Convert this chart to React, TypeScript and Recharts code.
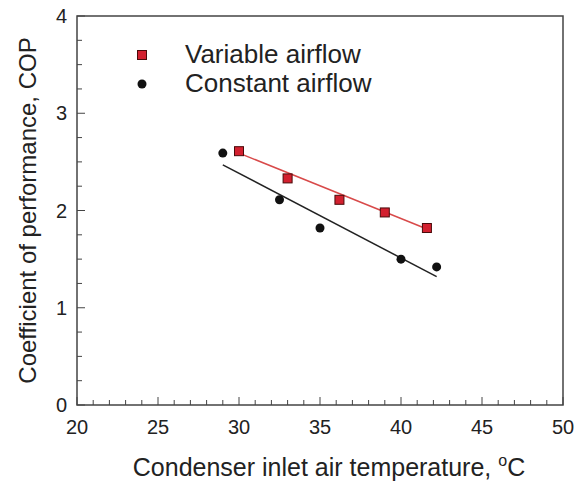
import { ComposedChart, Scatter, XAxis, YAxis, ReferenceArea, Legend } from 'recharts';

// measured COP points
const variableAirflow = [
  { x: 30.0, y: 2.61 },
  { x: 33.0, y: 2.33 },
  { x: 36.2, y: 2.11 },
  { x: 39.0, y: 1.98 },
  { x: 41.6, y: 1.82 },
];

const constantAirflow = [
  { x: 29.0, y: 2.59 },
  { x: 32.5, y: 2.11 },
  { x: 35.0, y: 1.82 },
  { x: 40.0, y: 1.5 },
  { x: 42.2, y: 1.42 },
];

// linear fit end points
const variableFit = [
  { x: 30.0, y: 2.59 },
  { x: 41.6, y: 1.81 },
];
const constantFit = [
  { x: 29.0, y: 2.47 },
  { x: 42.2, y: 1.32 },
];

const xTicks = [20, 21, 22, 23, 24, 25, 26, 27, 28, 29, 30, 31, 32, 33, 34, 35, 36, 37, 38, 39, 40, 41, 42, 43, 44, 45, 46, 47, 48, 49, 50];
const yTicks = [0, 0.25, 0.5, 0.75, 1, 1.25, 1.5, 1.75, 2, 2.25, 2.5, 2.75, 3, 3.25, 3.5, 3.75, 4];

const RED = '#d3202f';
const FONT = 'Liberation Sans, Arial, sans-serif';

function XTick({ x, y, payload }: any) {
  const v = payload.value;
  const major = v % 5 === 0;
  return (
    <g>
      <line x1={x} x2={x} y1={y} y2={y - (major ? 8 : 5)} stroke="#444" strokeWidth={1} />
      {major && (
        <text x={x} y={y + 29} textAnchor="middle" fontSize={20} fill="#222" fontFamily={FONT}>
          {v}
        </text>
      )}
    </g>
  );
}

function YTick({ x, y, payload }: any) {
  const v = payload.value;
  const major = Number.isInteger(v);
  return (
    <g>
      <line x1={x} x2={x + (major ? 8 : 5)} y1={y} y2={y} stroke="#444" strokeWidth={1} />
      {major && (
        <text x={x - 10} y={y + 7} textAnchor="end" fontSize={20} fill="#222" fontFamily={FONT}>
          {v}
        </text>
      )}
    </g>
  );
}

function XTitle({ viewBox }: any) {
  const cx = viewBox.x + viewBox.width / 2 + 9;
  return (
    <text x={cx} y={476} textAnchor="middle" fontSize={25} fill="#222" fontFamily={FONT}>
      Condenser inlet air temperature,{' '}
      <tspan fontSize={16} dy={-10}>o</tspan>
      <tspan fontSize={25} dy={10}>C</tspan>
    </text>
  );
}

function YTitle({ viewBox }: any) {
  const cy = viewBox.y + viewBox.height / 2;
  return (
    <text
      x={36}
      y={cy}
      transform={`rotate(-90, 36, ${cy})`}
      textAnchor="middle"
      fontSize={24}
      fill="#222"
      fontFamily={FONT}
    >
      Coefficient of performance, COP
    </text>
  );
}

function LegendBox() {
  const row = { display: 'flex', alignItems: 'center', height: 29 } as const;
  const label = { fontSize: 26, color: '#222', fontFamily: FONT, marginLeft: 38 } as const;
  return (
    <div>
      <div style={row}>
        <svg width={10} height={10}>
          <rect x={0.5} y={0.5} width={9} height={9} fill={RED} stroke="#4a0a0a" />
        </svg>
        <span style={label}>Variable airflow</span>
      </div>
      <div style={row}>
        <svg width={10} height={10}>
          <circle cx={5} cy={5} r={4.5} fill="#111" />
        </svg>
        <span style={label}>Constant airflow</span>
      </div>
    </div>
  );
}

const Square = (p: any) => (
  <rect x={p.cx - 4.5} y={p.cy - 4.5} width={9} height={9} fill={RED} stroke="#4a0a0a" strokeWidth={1} />
);
const Dot = (p: any) => <circle cx={p.cx} cy={p.cy} r={4.5} fill="#111" />;
const NoShape = () => <g />;

export default function App() {
  return (
    <div style={{ width: 586, height: 481, background: '#fff' }}>
      <style>{'body{margin:0}'}</style>
      <ComposedChart width={586} height={481} margin={{ top: 16, right: 23, left: 0, bottom: 0 }}>
        <XAxis
          type="number"
          dataKey="x"
          domain={[20, 50]}
          ticks={xTicks}
          interval={0}
          tickSize={0}
          tickMargin={0}
          axisLine={false}
          tick={<XTick />}
          height={76}
          label={<XTitle />}
          allowDataOverflow
        />
        <YAxis
          type="number"
          dataKey="y"
          domain={[0, 4]}
          ticks={yTicks}
          interval={0}
          tickSize={0}
          tickMargin={0}
          axisLine={false}
          tick={<YTick />}
          width={77}
          label={<YTitle />}
          allowDataOverflow
        />
        <ReferenceArea x1={20} x2={50} y1={0} y2={4} fill="none" stroke="#444" strokeWidth={1.5} />
        <Legend
          layout="vertical"
          align="center"
          verticalAlign="middle"
          content={<LegendBox />}
          wrapperStyle={{ left: 137, top: 40, width: 280 }}
        />
        <Scatter name="Variable fit" data={variableFit} line={{ stroke: '#d84a4a', strokeWidth: 1.5 }} shape={NoShape} isAnimationActive={false} legendType="none" />
        <Scatter name="Constant fit" data={constantFit} line={{ stroke: '#222', strokeWidth: 1.5 }} shape={NoShape} isAnimationActive={false} legendType="none" />
        <Scatter name="Variable airflow" data={variableAirflow} shape={Square} isAnimationActive={false} />
        <Scatter name="Constant airflow" data={constantAirflow} shape={Dot} isAnimationActive={false} />
      </ComposedChart>
    </div>
  );
}
